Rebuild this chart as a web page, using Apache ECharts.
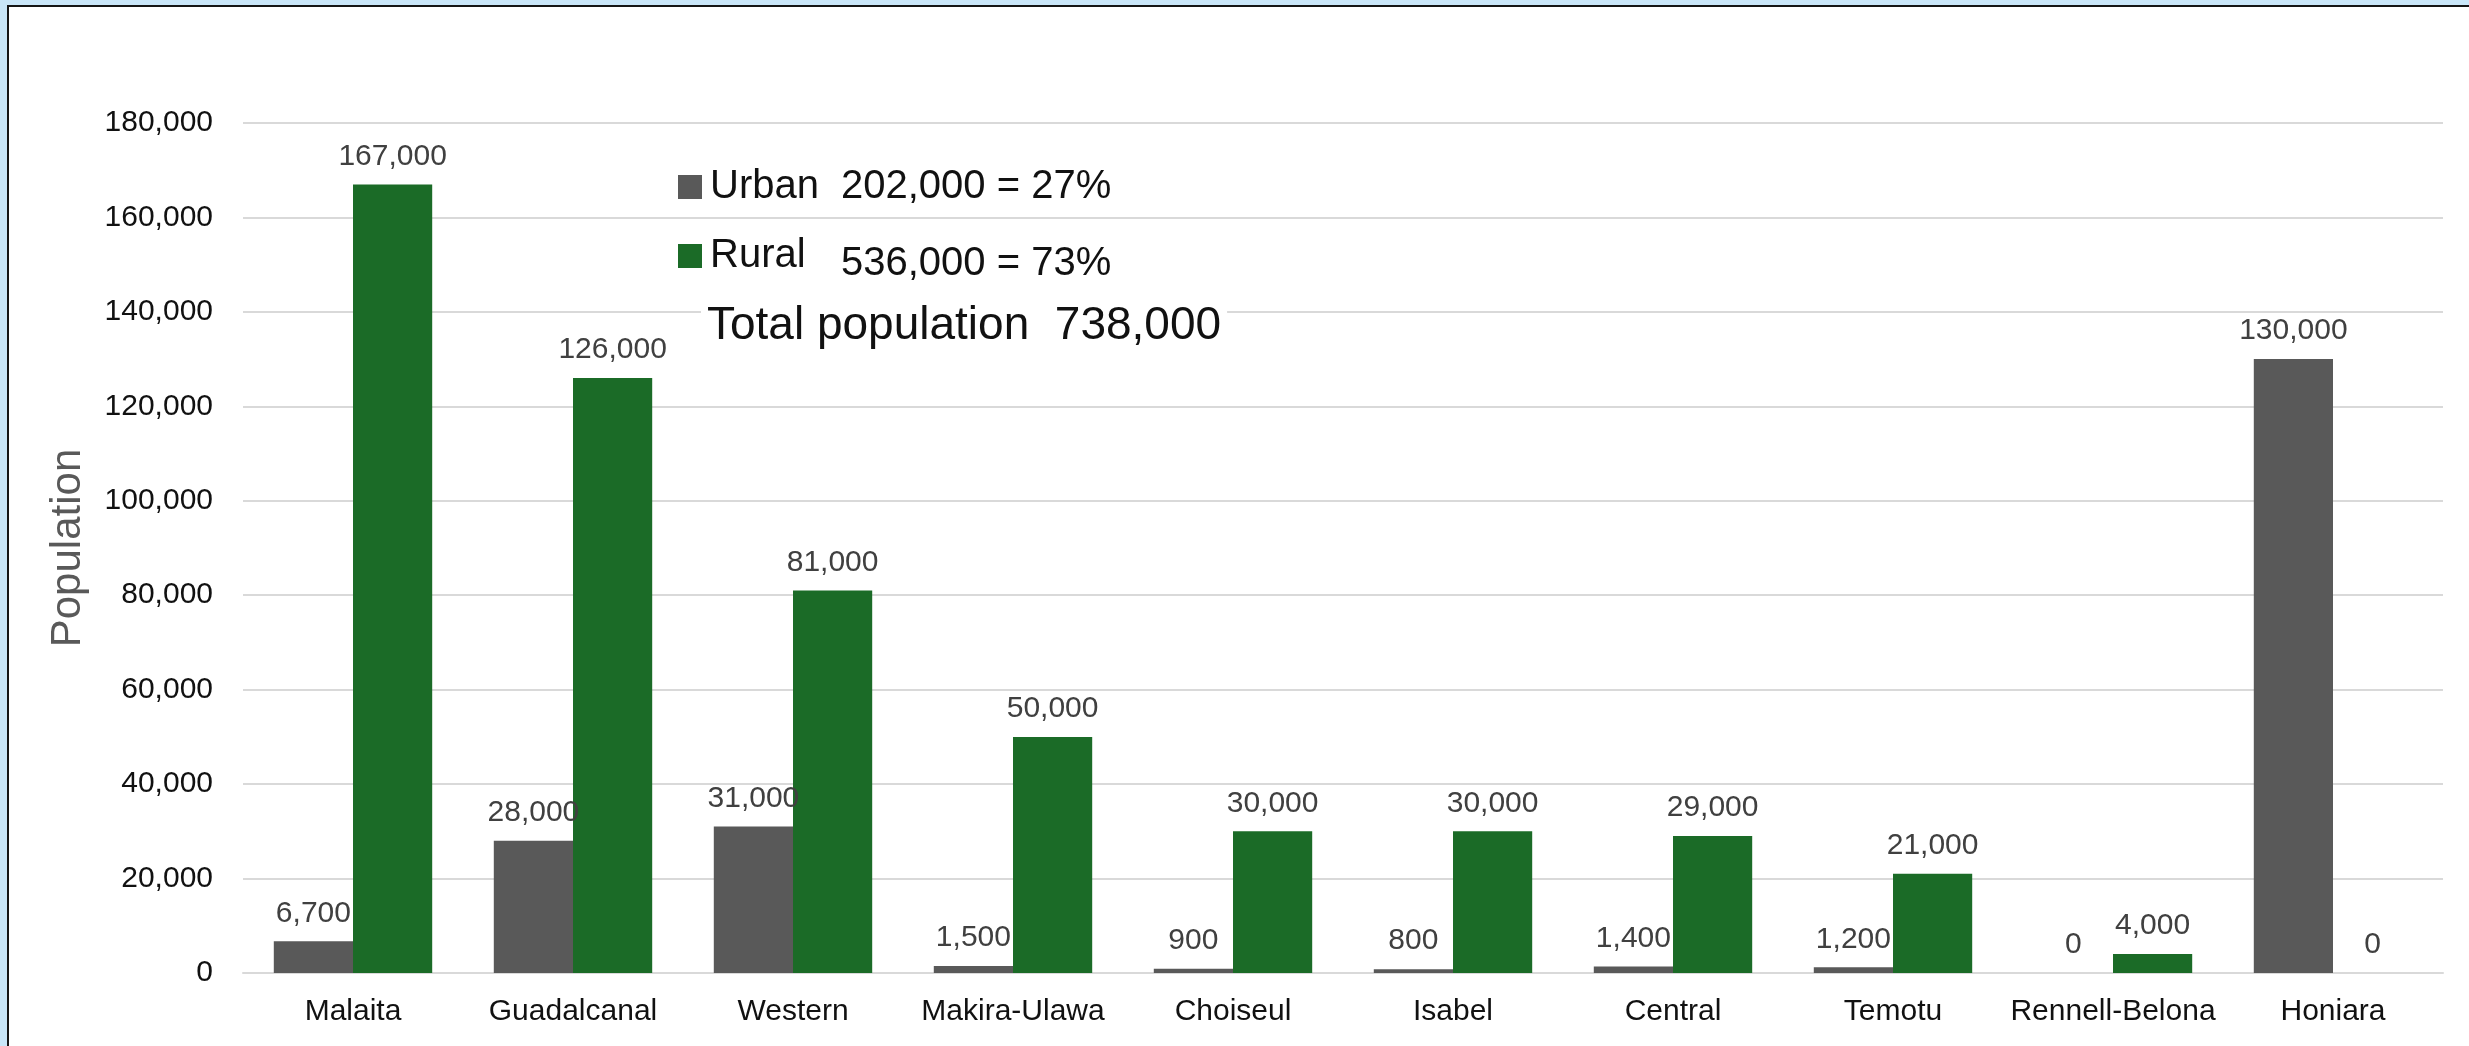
<!DOCTYPE html>
<html>
<head>
<meta charset="utf-8">
<script src="https://cdn.jsdelivr.net/npm/echarts@6/dist/echarts.min.js"></script>
<style>
  html, body { margin: 0; padding: 0; width: 2469px; height: 1046px; overflow: hidden; background: #c9e6f8; }
  #frame { position: absolute; left: 7px; top: 5px; right: 0; bottom: 0; border-left: 2px solid #151515; border-top: 2px solid #151515; background: #ffffff; }
  #chart { width: 2460px; height: 1039px; }
</style>
</head>
<body>
<div id="frame"><div id="chart"></div></div>
<script>
const categories = ['Malaita', 'Guadalcanal', 'Western', 'Makira-Ulawa', 'Choiseul', 'Isabel', 'Central', 'Temotu', 'Rennell-Belona', 'Honiara'];
const urbanValues = [6700, 28000, 31000, 1500, 900, 800, 1400, 1200, 0, 130000];
const ruralValues = [167000, 126000, 81000, 50000, 30000, 30000, 29000, 21000, 4000, 0];
const seriesNames = ['Urban', 'Rural'];
const summaryTexts = ['202,000 = 27%', '536,000 = 73%', 'Total population  738,000'];
const yAxisTitle = 'Population';

const FONT = 'Liberation Sans, Arial, sans-serif';
const fmt = v => Number(v).toLocaleString('en-US');

const chart = echarts.init(document.getElementById('chart'));
const labelStyle = {
  show: true, position: 'top', distance: 13,
  color: '#404040', fontSize: 30, fontFamily: FONT,
  formatter: p => fmt(p.value)
};
chart.setOption({
  animation: false,
  textStyle: { fontFamily: FONT },
  grid: { left: 234, right: 26, top: 116, bottom: 73, containLabel: false },
  legend: {
    orient: 'vertical', left: 664, top: 155, itemGap: 29,
    itemWidth: 24, itemHeight: 24, icon: 'rect',
    textStyle: { fontSize: 40, color: '#111', fontFamily: FONT, padding: [0, 0, 0, 3] },
    data: seriesNames
  },
  xAxis: {
    type: 'category', data: categories,
    axisLine: { lineStyle: { color: '#d9d9d9', width: 2 } },
    axisTick: { show: false },
    axisLabel: { color: '#111', fontSize: 30, fontFamily: FONT, margin: 24, interval: 0 }
  },
  yAxis: {
    type: 'value', min: 0, max: 180000, interval: 20000,
    name: yAxisTitle, nameLocation: 'middle', nameGap: 154,
    nameTextStyle: { color: '#595959', fontSize: 42, fontFamily: FONT },
    axisLine: { show: false }, axisTick: { show: false },
    axisLabel: { color: '#111', fontSize: 30, fontFamily: FONT, margin: 30, formatter: v => fmt(v) },
    splitLine: { lineStyle: { color: '#d9d9d9', width: 2 } }
  },
  series: [
    { name: seriesNames[0], type: 'bar', data: urbanValues, barGap: '0%', barCategoryGap: '28%',
      itemStyle: { color: '#595959' }, label: labelStyle },
    { name: seriesNames[1], type: 'bar', data: ruralValues, barGap: '0%', barCategoryGap: '28%',
      itemStyle: { color: '#1b6b27' }, label: labelStyle }
  ],
  graphic: [
    { type: 'text', left: 832, top: 160, z: 100, style: { text: summaryTexts[0], fontSize: 40, fill: '#111', fontFamily: FONT } },
    { type: 'text', left: 832, top: 237, z: 100, style: { text: summaryTexts[1], fontSize: 40, fill: '#111', fontFamily: FONT } },
    { type: 'text', left: 692, top: 292, z: 100, style: { text: summaryTexts[2], fontSize: 46, fill: '#111', fontFamily: FONT,
      backgroundColor: '#ffffff', padding: [4, 6, 6, 6] } }
  ]
});
</script>
</body>
</html>
